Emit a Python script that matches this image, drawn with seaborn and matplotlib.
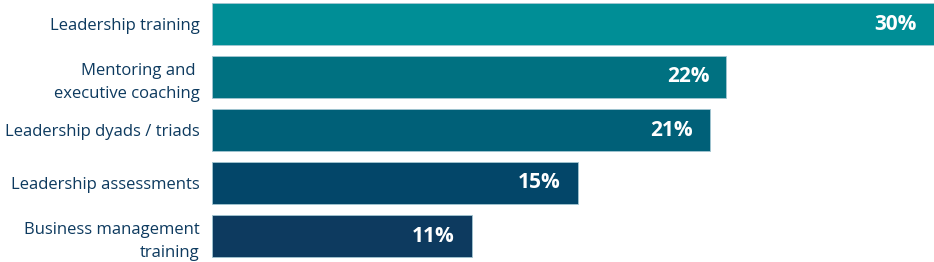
import matplotlib
matplotlib.use("Agg")
import matplotlib.pyplot as plt
import seaborn as sns
import pandas as pd

categories = ["Leadership training", "Mentoring and \nexecutive coaching",
              "Leadership dyads / triads", "Leadership assessments",
              "Business management\ntraining"]
values = [30.6, 21.8, 21.1, 15.5, 11.0]
value_labels = ["30%", "22%", "21%", "15%", "11%"]
colors = ["#008e96", "#007181", "#006078", "#034669", "#0d3a5f"]

df = pd.DataFrame({"category": categories, "value": values})

sns.set_theme(style="white")
plt.rcParams['font.family'] = ['Open Sans', 'DejaVu Sans']

fig = plt.figure(figsize=(9.34, 2.62), dpi=100)
ax = fig.add_axes([212/934, -0.5/262, 1 - 212/934, 265/262])

sns.barplot(data=df, y="category", x="value", hue="category", palette=colors,
            orient="h", width=0.79, legend=False, ax=ax, saturation=1,
            edgecolor="#a3c6d2", linewidth=0.6)

ax.set_xlim(0, 30.6)
ax.set_xlabel("")
ax.set_ylabel("")
ax.set_xticks([])
for s in ax.spines.values():
    s.set_visible(False)
ax.tick_params(axis="y", length=0, pad=9, labelsize=12, labelcolor="#0d3a5f")
for t in ax.get_yticklabels():
    t.set_horizontalalignment("right")
    t.set_linespacing(1.6)

for i, (v, lab) in enumerate(zip(values, value_labels)):
    ax.annotate(lab, xy=(min(v, 30.6), i), xytext=(-12.2, 0), textcoords="offset points",
                ha="right", va="center", color="white", fontsize=15, fontweight="bold")

fig.savefig("out.png", dpi=100)
